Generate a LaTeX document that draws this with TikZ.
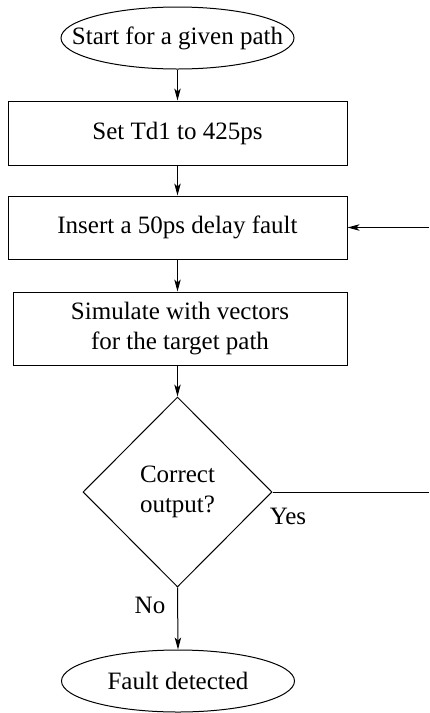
\documentclass[tikz,border=0pt]{standalone}
\usepackage{fontspec}
\setmainfont{Liberation Serif}
\usetikzlibrary{shapes.geometric,arrows.meta}

\begin{document}
\begin{tikzpicture}[x=0.5pt, y=-0.5pt, line width=0.5pt,
    font=\fontsize{12.5}{15}\selectfont,
    stepbox/.style={draw, rectangle, minimum width=169.5pt, inner sep=0pt, align=center},
    termshape/.style={draw, ellipse, minimum width=116.5pt, minimum height=31pt, inner sep=0pt},
    flow/.style={-{Stealth[length=6pt, width=3.2pt, inset=1.5pt]}}]
  \useasboundingbox (0,0) rectangle (429,713);
  \node[termshape] (start) at (177.5,38) {};
  \node (starttext) at (177.5,38) {Start for a given path};
  \node[stepbox, minimum height=32pt] (settd) at (177.5,133) {Set Td1 to 425ps};
  \node[stepbox, minimum height=31.5pt] (insert) at (177.5,227.5) {Insert a 50ps delay fault};
  \node[stepbox, minimum width=167pt, minimum height=36.5pt] (simulate) at (180,328.5) {Simulate with vectors\\for the target path};
  \node[draw, diamond, minimum width=94.5pt, minimum height=95pt, inner sep=0pt, align=center] (check) at (177.5,492) {Correct\\output?};
  \node[termshape] (detected) at (178,681) {};
  \node (detectedtext) at (178,681) {Fault detected};
  \coordinate (loopin) at (429,227.5);
  \coordinate (loopout) at (429,492);

  \draw[flow] (start.south) -- (settd.north);
  \draw[flow] (settd.south) -- (insert.north);
  \draw[flow] (insert.south) -- (insert.south |- simulate.north);
  \draw[flow] (simulate.south -| check.north) -- (check.north);
  \draw[flow] (check.south) -- (detected.north);
  \draw[flow] (loopin) -- (insert.east);
  \draw (check.east) -- (loopout);
  \node[anchor=base] (yes) at (288,524) {Yes};
  \node[anchor=base] (no) at (150,613) {No};
\end{tikzpicture}
\end{document}
